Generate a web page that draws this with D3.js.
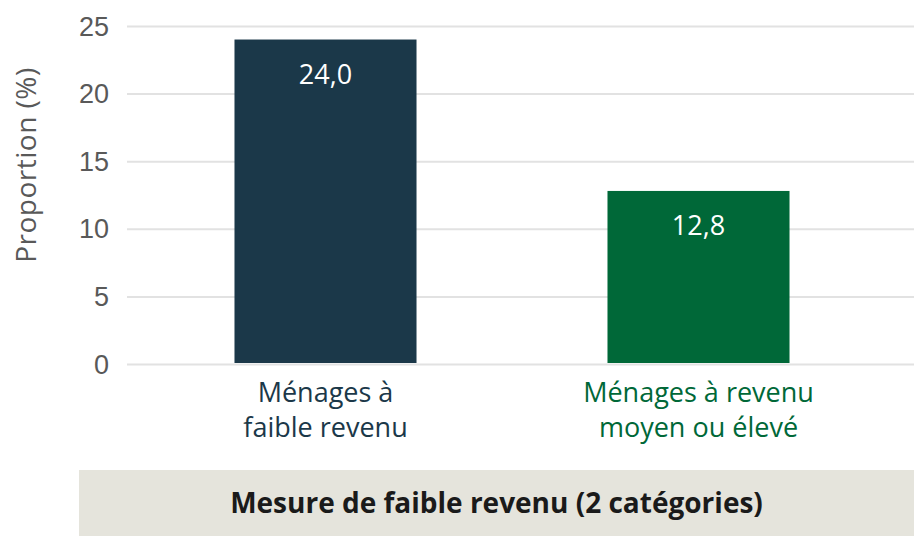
<!DOCTYPE html>
<html>
<head>
<meta charset="utf-8">
<script src="https://cdn.jsdelivr.net/npm/d3@7"></script>
<style>
  body { margin: 0; background: #fff; }
  svg { display: block; font-family: "Open Sans", "Noto Sans", sans-serif; }
</style>
</head>
<body>
<div id="chart"></div>
<script>
const categories = [["Ménages à", "faible revenu"], ["Ménages à revenu", "moyen ou élevé"]]
const values = [24.0, 12.8]
const colors = ["#1b3849", "#006838"]
const yTicks = [0, 5, 10, 15, 20, 25]
const yLabel = "Proportion (%)"
const xTitle = "Mesure de faible revenu (2 catégories)"

const width = 914
const height = 536

const svg = d3.select("#chart")
  .append("svg")
  .attr("width", width)
  .attr("height", height)

const y = d3.scaleLinear()
  .domain([0, 25])
  .range([364, 26])

const x = d3.scaleBand()
  .domain(d3.range(values.length))
  .range([139, 885])
  .paddingInner(0.512)
  .paddingOuter(0.256)

// gridlines + tick labels
const yAxis = svg.append("g")
  .attr("transform", "translate(127,0)")
  .call(d3.axisLeft(y).tickValues(yTicks).tickSize(-(width - 127)).tickPadding(18))
yAxis.select(".domain").remove()
yAxis.selectAll(".tick line").attr("stroke", "#e2e2e2").attr("stroke-width", 2)
yAxis.selectAll(".tick text")
  .attr("fill", "#595959")
  .style("font-size", "27px")
  .attr("dy", "0.34em")

svg.append("text")
  .attr("transform", "translate(36," + 165 + ") rotate(-90)")
  .attr("text-anchor", "middle")
  .attr("fill", "#595959")
  .style("font-size", "28px")
  .style("letter-spacing", "0.5px")
  .text(yLabel)

// bars
svg.selectAll("rect.bar")
  .data(values)
  .enter()
  .append("rect")
  .attr("class", "bar")
  .attr("x", (d, i) => x(i))
  .attr("y", d => y(d))
  .attr("width", x.bandwidth())
  .attr("height", d => y(0) - 1 - y(d))
  .attr("fill", (d, i) => colors[i])

svg.selectAll("text.value")
  .data(values)
  .enter()
  .append("text")
  .attr("class", "value")
  .attr("x", (d, i) => x(i) + x.bandwidth() / 2)
  .attr("y", d => y(d) + 44)
  .attr("text-anchor", "middle")
  .attr("fill", "#fff")
  .style("font-size", "27px")
  .text(d => d.toFixed(1).replace(".", ","))

// category labels
const catLabel = svg.selectAll("text.cat")
  .data(categories)
  .enter()
  .append("text")
  .attr("class", "cat")
  .attr("text-anchor", "middle")
  .attr("fill", (d, i) => colors[i])
  .style("font-size", "27px")
catLabel.selectAll("tspan")
  .data((d, i) => d.map(t => ({ t, i })))
  .enter()
  .append("tspan")
  .attr("x", d => x(d.i) + x.bandwidth() / 2)
  .attr("y", (d, j) => 402 + j * 35)
  .text(d => d.t)

// bottom title band
svg.append("rect")
  .attr("x", 79)
  .attr("y", 470)
  .attr("width", width - 79)
  .attr("height", 66)
  .attr("fill", "#e5e4dc")

svg.append("text")
  .attr("x", (79 + width) / 2)
  .attr("y", 513)
  .attr("text-anchor", "middle")
  .attr("fill", "#1a1a1a")
  .style("font-size", "28px")
  .style("font-weight", "bold")
  .text(xTitle)
</script>
</body>
</html>
